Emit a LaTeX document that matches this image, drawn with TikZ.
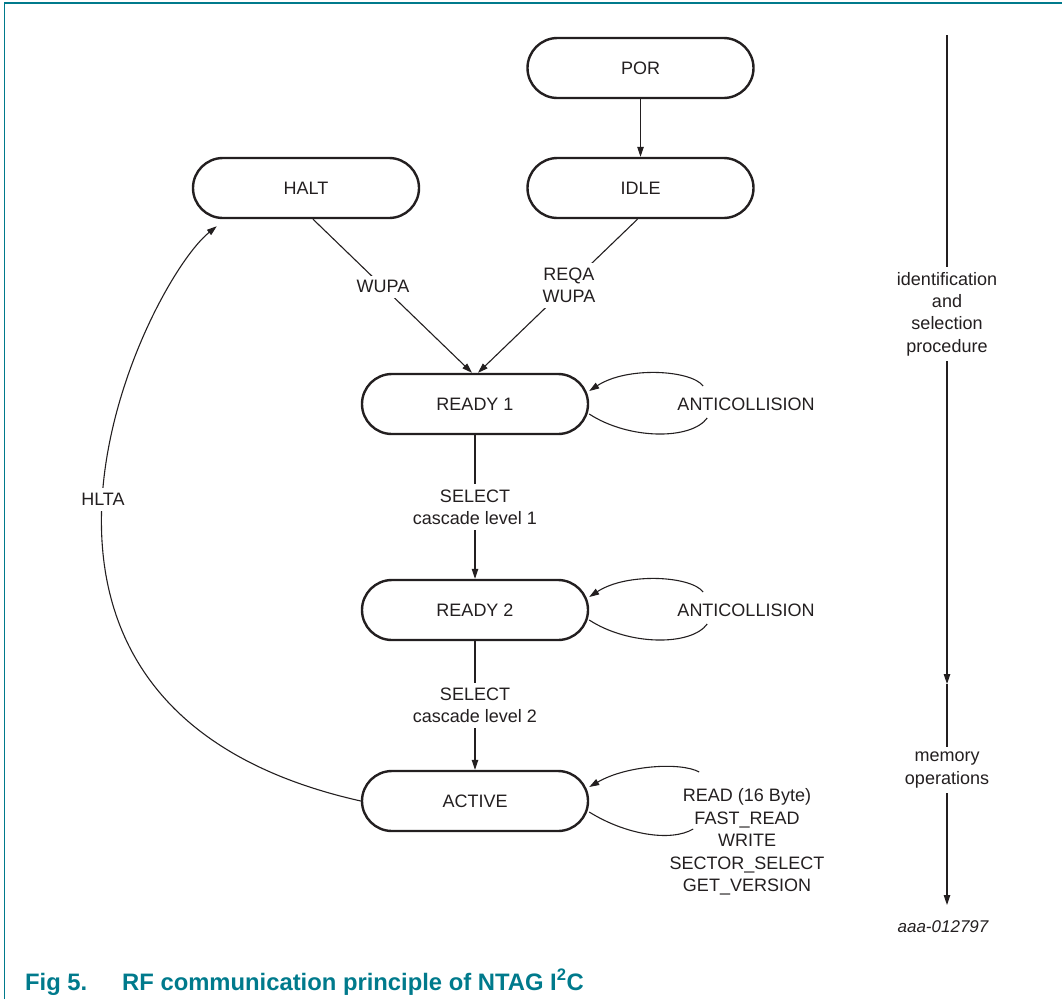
\documentclass[tikz,border=0pt]{standalone}
\usepackage{fontspec}
\setmainfont{Liberation Sans}
\usetikzlibrary{arrows.meta}

\definecolor{nxpteal}{RGB}{0,122,140}
\definecolor{ink}{RGB}{35,31,32}

\tikzset{
	state/.style = {draw = ink, line width = 2.4pt, rounded corners = 30pt, minimum width = 226pt, minimum height = 60pt, text = ink, font = \fontsize{18}{22.5}\selectfont},
	lbl/.style = {fill = white, text = ink, align = center, inner sep = 5pt, font = \fontsize{18}{22.4}\selectfont},
	line/.style = {draw = ink, line width = 1.1pt},
	conn/.style = {line, -{Triangle[length = 10pt, width = 6.5pt]}},
}

\begin{document}
\begin{tikzpicture}[x = 1pt, y = -1pt]
		\useasboundingbox (0,0) rectangle (1062,999);

		% frame
		\draw [nxpteal, line width = 1.5pt] (4.5,999) -- (4.5,3) -- (1062,3);

		% states
		\node [state] (por) at (640.5,68) {POR};
		\node [state] (halt) at (306,188) {HALT};
		\node [state] (idle) at (640.5,188) {IDLE};
		\node [state] (ready1) at (475,404) {READY 1};
		\node [state] (ready2) at (475,610) {READY 2};
		\node [state] (active) at (475,801) {ACTIVE};

		% transitions
		\draw [conn] (por) -- (idle);
		\draw [conn] ([xshift = 7pt]halt.south) -- node [lbl, pos = 0.44] {WUPA} ([xshift = -3pt]ready1.north);
		\draw [conn] ([xshift = -3pt]idle.south) -- node [lbl, pos = 0.43] {REQA\\WUPA} ([xshift = 3pt]ready1.north);
		\draw [conn] (ready1) -- node [lbl] {SELECT\\cascade level 1} (ready2);
		\draw [conn] (ready2) -- node [lbl] {SELECT\\cascade level 2} (active);
		\draw [conn] (active.west) .. controls (-63,706) and (145,284) .. ([shift = {(25,7)}]halt.south west) node [lbl, pos = 0.5] {HLTA};

		% self loops
		\foreach \s in {ready1, ready2}{
			\draw [line] ([yshift = -10pt]\s.east) .. controls +(40,26) and +(-16,22) .. +(118,4);
			\draw [conn] ([shift = {(114,-18)}]\s.east) .. controls +(-12,-16) and +(38,-25) .. ([yshift = 13pt]\s.east);
		}
		\draw [line] ([yshift = -11pt]active.east) .. controls +(37,23) and +(-22,13) .. +(104,17);
		\draw [conn] ([shift = {(110,-29)}]active.east) .. controls +(-18,-10) and +(38,-22) .. ([yshift = 14pt]active.east);

		\node [lbl, fill = none] (anti1) at (746,404) {ANTICOLLISION};
		\node [lbl, fill = none] (anti2) at (746,610) {ANTICOLLISION};
		\node [lbl, fill = none] (cmds) at (747,842) {READ (16 Byte)\\FAST\_READ\\WRITE\\SECTOR\_SELECT\\GET\_VERSION};

		% phases
		\coordinate (axis top) at (947,35);
		\coordinate (axis mid) at (947,684);
		\coordinate (axis bottom) at (947,905);
		\draw [conn] (axis top) -- node [lbl, pos = 0.43] {identification\\and\\selection\\procedure} (axis mid);
		\draw [conn] (axis mid) -- node [lbl, pos = 0.39] {memory\\operations} (axis bottom);

		\node [text = ink, font = \fontsize{17}{20}\selectfont\itshape] (figid) at (943,927) {aaa-012797};

		% caption
		\node [anchor = base west, inner sep = 0pt, text = nxpteal, font = \fontsize{23.8}{28}\selectfont\bfseries] (capnum) at (25,990) {Fig 5.};
		\node [anchor = base west, inner sep = 0pt, text = nxpteal, font = \fontsize{23.8}{28}\selectfont\bfseries] (captext) at (122,990) {RF communication principle of NTAG I\textsuperscript{2}C};
	\end{tikzpicture}
\end{document}
